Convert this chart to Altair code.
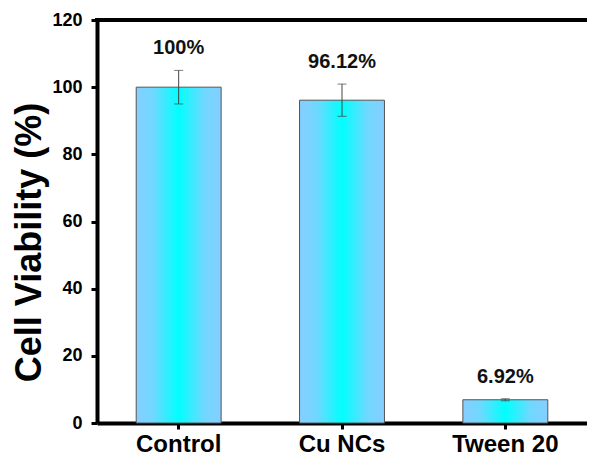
import altair as alt
import pandas as pd

categories = ["Control", "Cu NCs", "Tween 20"]
values = [100.0, 96.12, 6.92]
errors = [5.0, 4.8, 0.3]
labels = ["100%", "96.12%", "6.92%"]
y_ticks = [0, 20, 40, 60, 80, 100, 120]

df = pd.DataFrame({
    "cat": categories,
    "val": values,
    "lo": [v - e for v, e in zip(values, errors)],
    "hi": [v + e for v, e in zip(values, errors)],
    "lab": labels,
})

W, H = 490, 403
FONT = "Liberation Sans"

grad = alt.Gradient(
    gradient="linear",
    x1=0, x2=1, y1=0, y2=0,
    stops=[
        alt.GradientStop(color="#86CEFF", offset=0),
        alt.GradientStop(color="#70D8FF", offset=0.2),
        alt.GradientStop(color="#00FFFF", offset=0.5),
        alt.GradientStop(color="#70D8FF", offset=0.8),
        alt.GradientStop(color="#86CEFF", offset=1),
    ],
)

xscale = alt.Scale(paddingInner=0.48, paddingOuter=0.24)
yscale = alt.Scale(domain=[0, 120], nice=False)

x_enc = alt.X("cat:N", sort=categories, scale=xscale, title=None,
              axis=alt.Axis(labelAngle=0, labelFontSize=24, labelFontWeight="bold",
                            labelFont=FONT, labelColor="black", tickSize=6, tickWidth=3,
                            tickColor="black", labelPadding=3, domainWidth=4,
                            domainColor="black"))

base = alt.Chart(df)

bars = base.mark_bar(fill=grad, stroke="#555555", strokeWidth=1).encode(
    x=x_enc,
    y=alt.Y("val:Q", scale=yscale,
            axis=alt.Axis(values=y_ticks, grid=False, domainWidth=4, domainColor="black",
                          tickWidth=3, tickSize=6, tickColor="black",
                          labelFontSize=18, labelFontWeight="bold", labelFont=FONT,
                          labelColor="black", labelPadding=9,
                          title="Cell Viability (%)", titleFontSize=36,
                          titleFontWeight="bold", titleFont=FONT, titleColor="black",
                          titleX=-57, titleY=222, titleBaseline="alphabetic")),
)

err = base.mark_rule(color="#444444", strokeWidth=1).encode(
    x=alt.X("cat:N", sort=categories), y="lo:Q", y2="hi:Q")
cap_hi = base.mark_tick(color="#444444", thickness=1, size=9, orient="horizontal").encode(
    x=alt.X("cat:N", sort=categories), y="hi:Q")
cap_lo = base.mark_tick(color="#444444", thickness=1, size=9, orient="horizontal").encode(
    x=alt.X("cat:N", sort=categories), y="lo:Q")

text = base.mark_text(dy=-16, fontSize=20, fontWeight="bold", font=FONT,
                      baseline="alphabetic", color="#111111").encode(
    x=alt.X("cat:N", sort=categories), y="hi:Q", text="lab:N")

top = alt.Chart(pd.DataFrame({"k": [0]})).mark_rule(color="black", strokeWidth=4).encode(
    y=alt.value(0), x=alt.value(-2), x2=alt.value(W + 10))

chart = alt.layer(bars, err, cap_hi, cap_lo, text, top).properties(
    width=W, height=H,
    autosize=alt.AutoSizeParams(type="none"),
    padding={"left": 89, "top": 12, "right": 0, "bottom": 35},
).configure_view(strokeWidth=0)

chart.save("out.html", embed_options={"renderer": "svg", "actions": False})
